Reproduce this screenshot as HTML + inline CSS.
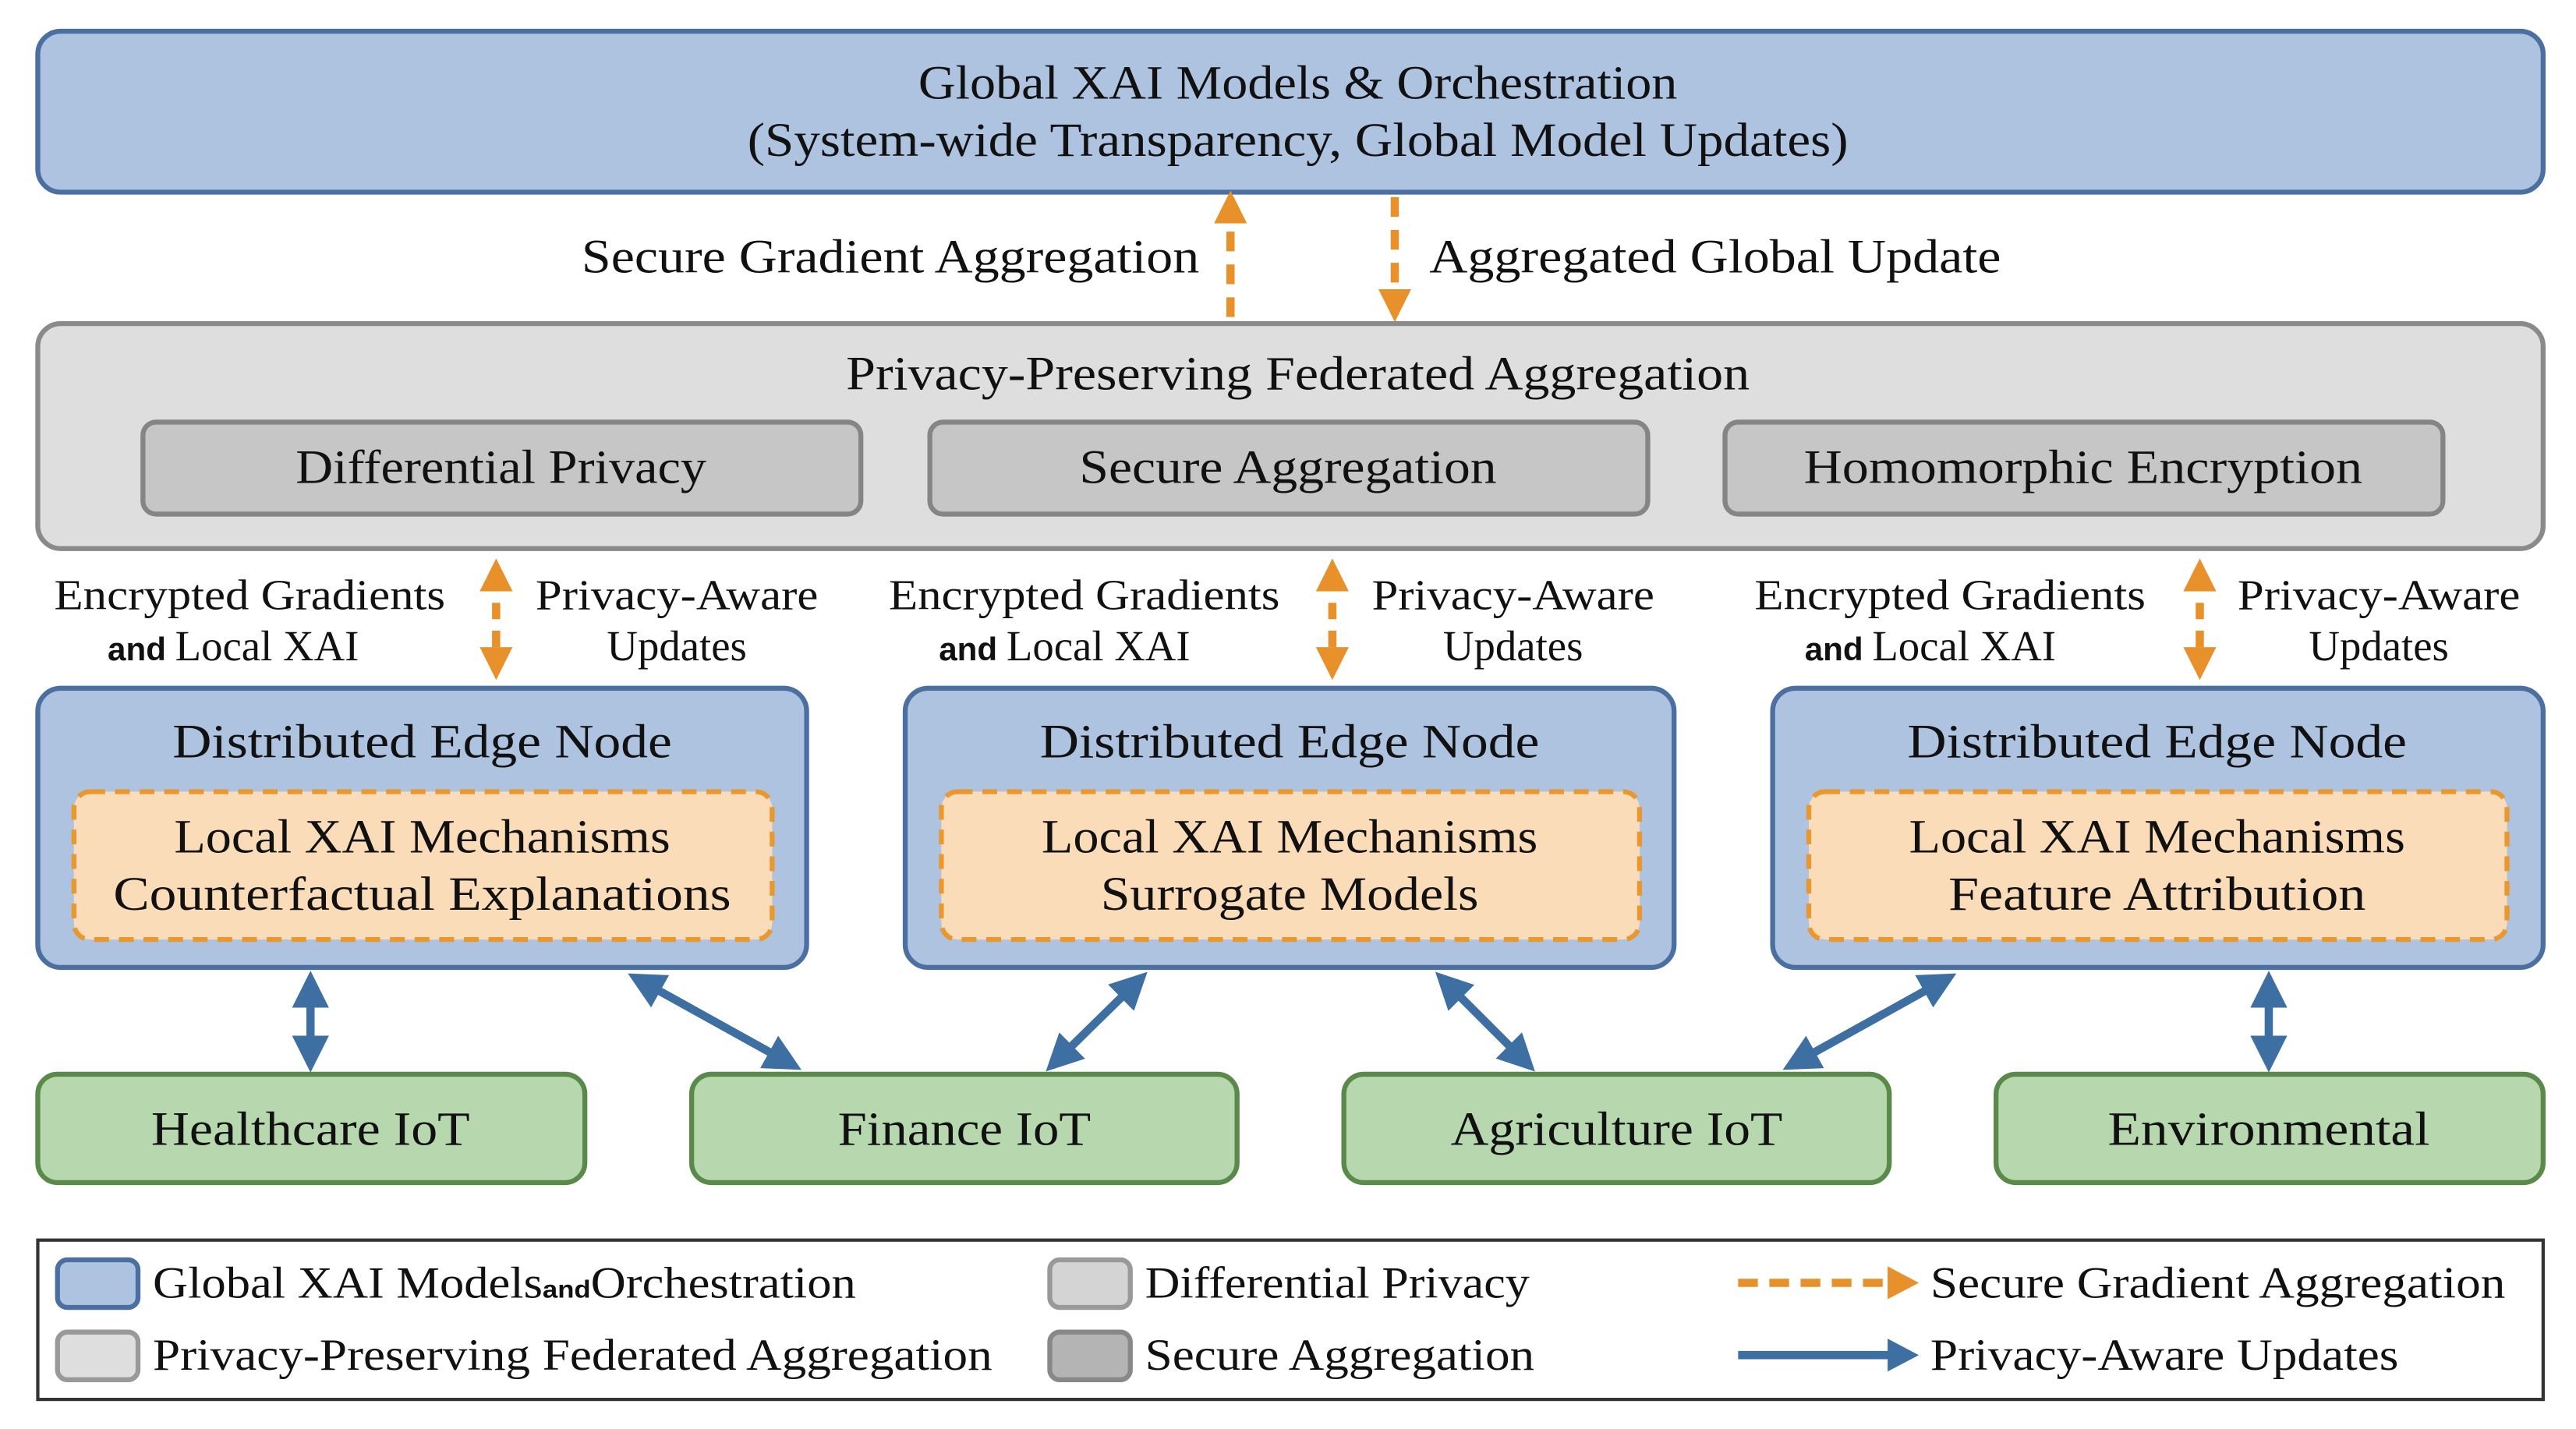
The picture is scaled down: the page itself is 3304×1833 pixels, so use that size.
<!DOCTYPE html>
<html><head><meta charset="utf-8"><style>
html,body{margin:0;padding:0;background:#fff;}
svg{display:block;}
text{font-family:"Liberation Serif",serif;fill:#111;}
</style></head><body>
<svg width="3304" height="1833" viewBox="0 0 1568 870" preserveAspectRatio="none" xmlns="http://www.w3.org/2000/svg">
<defs>
<marker id="oh" viewBox="0 0 10 10" refX="5" refY="5" markerWidth="4" markerHeight="4" orient="auto-start-reverse"><path d="M0,0 L10,5 L0,10 z" fill="#e8902a"/></marker>
<marker id="bh" viewBox="0 0 10 10" refX="6" refY="5" markerWidth="4.5" markerHeight="4.5" orient="auto-start-reverse"><path d="M0,0 L10,5 L0,10 z" fill="#3e6fa3"/></marker>
</defs>
<rect x="0" y="0" width="1568" height="870" fill="#fff"/>

<!-- Top box -->
<rect x="23" y="19" width="1525" height="98" rx="14" fill="#aec3e0" stroke="#4a6fa0" stroke-width="3"/>
<text x="790" y="60" font-size="29" text-anchor="middle" textLength="462" lengthAdjust="spacingAndGlyphs">Global XAI Models &amp; Orchestration</text>
<text x="790" y="95" font-size="29" text-anchor="middle" textLength="670" lengthAdjust="spacingAndGlyphs">(System-wide Transparency, Global Model Updates)</text>

<!-- top arrows -->
<line x1="749" y1="193" x2="749" y2="126" stroke="#e8902a" stroke-width="5" stroke-dasharray="12,8" marker-end="url(#oh)"/>
<line x1="849" y1="120" x2="849" y2="186" stroke="#e8902a" stroke-width="5" stroke-dasharray="12,8" marker-end="url(#oh)"/>
<text x="730" y="166" font-size="29" text-anchor="end" textLength="376" lengthAdjust="spacingAndGlyphs">Secure Gradient Aggregation</text>
<text x="870" y="166" font-size="29" textLength="348" lengthAdjust="spacingAndGlyphs">Aggregated Global Update</text>

<!-- Gray box -->
<rect x="23" y="197" width="1525" height="137" rx="14" fill="#dedede" stroke="#8a8a8a" stroke-width="3"/>
<text x="790" y="237" font-size="29" text-anchor="middle" textLength="550" lengthAdjust="spacingAndGlyphs">Privacy-Preserving Federated Aggregation</text>
<rect x="87" y="257" width="437" height="56" rx="8" fill="#c6c6c6" stroke="#858585" stroke-width="3"/>
<rect x="566" y="257" width="437" height="56" rx="8" fill="#c6c6c6" stroke="#858585" stroke-width="3"/>
<rect x="1050" y="257" width="437" height="56" rx="8" fill="#c6c6c6" stroke="#858585" stroke-width="3"/>
<text x="305" y="294" font-size="29" text-anchor="middle" textLength="250" lengthAdjust="spacingAndGlyphs">Differential Privacy</text>
<text x="784" y="294" font-size="29" text-anchor="middle" textLength="254" lengthAdjust="spacingAndGlyphs">Secure Aggregation</text>
<text x="1268" y="294" font-size="29" text-anchor="middle" textLength="340" lengthAdjust="spacingAndGlyphs">Homomorphic Encryption</text>

<!-- mid labels & arrows -->
<g font-size="26">
<text x="152" y="371" text-anchor="middle" textLength="238" lengthAdjust="spacingAndGlyphs">Encrypted Gradients</text>
<text x="142" y="402" text-anchor="middle"><tspan font-family="Liberation Sans,sans-serif" font-weight="bold" font-size="20">and </tspan>Local XAI</text>
<text x="412" y="371" text-anchor="middle" textLength="172" lengthAdjust="spacingAndGlyphs">Privacy-Aware</text>
<text x="412" y="402" text-anchor="middle">Updates</text>

<text x="660" y="371" text-anchor="middle" textLength="238" lengthAdjust="spacingAndGlyphs">Encrypted Gradients</text>
<text x="648" y="402" text-anchor="middle"><tspan font-family="Liberation Sans,sans-serif" font-weight="bold" font-size="20">and </tspan> Local XAI</text>
<text x="921" y="371" text-anchor="middle" textLength="172" lengthAdjust="spacingAndGlyphs">Privacy-Aware</text>
<text x="921" y="402" text-anchor="middle">Updates</text>

<text x="1187" y="371" text-anchor="middle" textLength="238" lengthAdjust="spacingAndGlyphs">Encrypted Gradients</text>
<text x="1175" y="402" text-anchor="middle"><tspan font-family="Liberation Sans,sans-serif" font-weight="bold" font-size="20">and </tspan> Local XAI</text>
<text x="1448" y="371" text-anchor="middle" textLength="172" lengthAdjust="spacingAndGlyphs">Privacy-Aware</text>
<text x="1448" y="402" text-anchor="middle">Updates</text>
</g>
<g stroke="#e8902a" stroke-width="5" stroke-dasharray="10,7">
<line x1="302" y1="350" x2="302" y2="404" marker-start="url(#oh)" marker-end="url(#oh)"/>
<line x1="811" y1="350" x2="811" y2="404" marker-start="url(#oh)" marker-end="url(#oh)"/>
<line x1="1339" y1="350" x2="1339" y2="404" marker-start="url(#oh)" marker-end="url(#oh)"/>
</g>

<!-- Edge nodes -->
<g>
<rect x="23" y="419" width="468" height="170" rx="14" fill="#aec3e0" stroke="#4a6fa0" stroke-width="3"/>
<rect x="551" y="419" width="468" height="170" rx="14" fill="#aec3e0" stroke="#4a6fa0" stroke-width="3"/>
<rect x="1079" y="419" width="469" height="170" rx="14" fill="#aec3e0" stroke="#4a6fa0" stroke-width="3"/>
<rect x="45" y="482" width="425" height="90" rx="10" fill="#fbdcb8" stroke="#e8982f" stroke-width="3" stroke-dasharray="9,6"/>
<rect x="573" y="482" width="425" height="90" rx="10" fill="#fbdcb8" stroke="#e8982f" stroke-width="3" stroke-dasharray="9,6"/>
<rect x="1101" y="482" width="425" height="90" rx="10" fill="#fbdcb8" stroke="#e8982f" stroke-width="3" stroke-dasharray="9,6"/>
</g>
<g font-size="29" text-anchor="middle">
<text x="257" y="461" textLength="304" lengthAdjust="spacingAndGlyphs">Distributed Edge Node</text>
<text x="785" y="461" textLength="304" lengthAdjust="spacingAndGlyphs">Distributed Edge Node</text>
<text x="1313" y="461" textLength="304" lengthAdjust="spacingAndGlyphs">Distributed Edge Node</text>
<text x="257" y="519" textLength="302" lengthAdjust="spacingAndGlyphs">Local XAI Mechanisms</text>
<text x="257" y="554" textLength="376" lengthAdjust="spacingAndGlyphs">Counterfactual Explanations</text>
<text x="785" y="519" textLength="302" lengthAdjust="spacingAndGlyphs">Local XAI Mechanisms</text>
<text x="785" y="554" textLength="230" lengthAdjust="spacingAndGlyphs">Surrogate Models</text>
<text x="1313" y="519" textLength="302" lengthAdjust="spacingAndGlyphs">Local XAI Mechanisms</text>
<text x="1313" y="554" textLength="254" lengthAdjust="spacingAndGlyphs">Feature Attribution</text>
</g>

<!-- blue arrows -->
<g stroke="#3e6fa3" stroke-width="5">
<line x1="189" y1="600" x2="189" y2="644" marker-start="url(#bh)" marker-end="url(#bh)"/>
<line x1="390" y1="597" x2="480" y2="647" marker-start="url(#bh)" marker-end="url(#bh)"/>
<line x1="692" y1="598" x2="643" y2="646" marker-start="url(#bh)" marker-end="url(#bh)"/>
<line x1="880" y1="598" x2="928" y2="646" marker-start="url(#bh)" marker-end="url(#bh)"/>
<line x1="1183" y1="597" x2="1093" y2="647" marker-start="url(#bh)" marker-end="url(#bh)"/>
<line x1="1381" y1="600" x2="1381" y2="644" marker-start="url(#bh)" marker-end="url(#bh)"/>
</g>

<!-- Green boxes -->
<g fill="#b7d7ae" stroke="#5a8a4a" stroke-width="3">
<rect x="23" y="654" width="333" height="66" rx="12"/>
<rect x="421" y="654" width="332" height="66" rx="12"/>
<rect x="818" y="654" width="332" height="66" rx="12"/>
<rect x="1215" y="654" width="333" height="66" rx="12"/>
</g>
<g font-size="29" text-anchor="middle">
<text x="189" y="697" textLength="194" lengthAdjust="spacingAndGlyphs">Healthcare IoT</text>
<text x="587" y="697" textLength="154" lengthAdjust="spacingAndGlyphs">Finance IoT</text>
<text x="984" y="697" textLength="202" lengthAdjust="spacingAndGlyphs">Agriculture IoT</text>
<text x="1381" y="697" textLength="196" lengthAdjust="spacingAndGlyphs">Environmental</text>
</g>

<!-- Legend -->
<rect x="23" y="755" width="1525" height="97" fill="#fff" stroke="#333" stroke-width="2"/>
<rect x="35" y="767" width="49" height="29" rx="6" fill="#aec3e0" stroke="#4a6fa0" stroke-width="3"/>
<rect x="35" y="811" width="49" height="29" rx="6" fill="#dedede" stroke="#999" stroke-width="3"/>
<rect x="639" y="767" width="49" height="29" rx="6" fill="#d4d4d4" stroke="#999" stroke-width="3"/>
<rect x="639" y="811" width="49" height="29" rx="6" fill="#b4b4b4" stroke="#888" stroke-width="3"/>
<g font-size="27">
<text x="93" y="790" textLength="428" lengthAdjust="spacingAndGlyphs">Global XAI Models<tspan font-size="15" font-family="Liberation Sans,sans-serif" font-weight="bold">and</tspan>Orchestration</text>
<text x="93" y="834" textLength="511" lengthAdjust="spacingAndGlyphs">Privacy-Preserving Federated Aggregation</text>
<text x="697" y="790" textLength="234" lengthAdjust="spacingAndGlyphs">Differential Privacy</text>
<text x="697" y="834" textLength="237" lengthAdjust="spacingAndGlyphs">Secure Aggregation</text>
<text x="1175" y="790" textLength="350" lengthAdjust="spacingAndGlyphs">Secure Gradient Aggregation</text>
<text x="1175" y="834" textLength="285" lengthAdjust="spacingAndGlyphs">Privacy-Aware Updates</text>
</g>
<line x1="1058" y1="781" x2="1155" y2="781" stroke="#e8902a" stroke-width="5" stroke-dasharray="12,7"/>
<path d="M1149,771 L1168,781 L1149,791 z" fill="#e8902a"/>
<line x1="1058" y1="825" x2="1155" y2="825" stroke="#3e6fa3" stroke-width="5"/>
<path d="M1149,815 L1168,825 L1149,835 z" fill="#3e6fa3"/>
</svg>
</body></html>
